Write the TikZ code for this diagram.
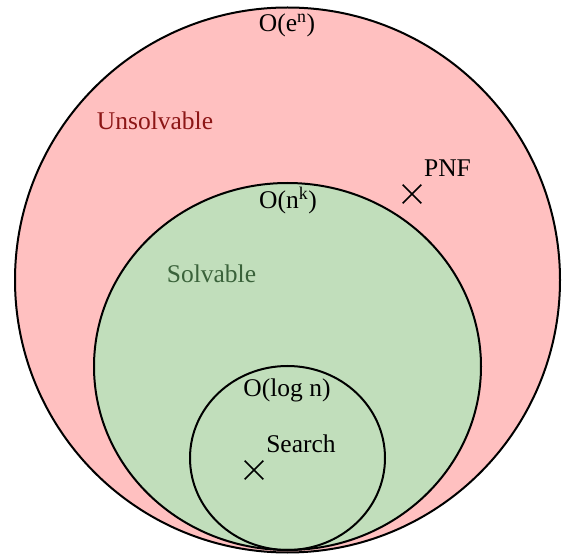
\documentclass[tikz,border=0pt]{standalone}
\usepackage{fontspec}
\setmainfont{Liberation Serif}
\usetikzlibrary{shapes.geometric,shapes.misc}
\definecolor{unsolvfill}{RGB}{255,192,192}
\definecolor{solvfill}{RGB}{193,222,187}
\definecolor{unsolvtext}{RGB}{140,22,22}
\definecolor{solvtext}{RGB}{58,98,58}

\begin{document}
\begin{tikzpicture}[x=1pt,y=-1pt,line width=2pt,
   set/.style={ellipse,draw,inner sep=0pt},
   lbl/.style={anchor=base,inner sep=0pt,font=\fontsize{25.5}{30}\selectfont},
   xmark/.style={cross out,draw,inner sep=0pt,minimum size=17pt,line width=1.6pt}]
   \useasboundingbox (0,0) rectangle (563,556);
   % the three classes
   \node[set,fill=unsolvfill,minimum width=545pt,minimum height=545pt] (all) at (287.5,280) {};
   \node[set,fill=solvfill,minimum width=387pt,minimum height=367pt] (poly) at (287.5,366.5) {};
   \node[set,minimum width=195pt,minimum height=184pt] (log_n) at (287.5,458) {};
   % labels
   \node[lbl] (all_lbl)  at (287,32)  {O(e\textsuperscript{n})};
   \node[lbl] (poly_lbl) at (288,209) {O(n\textsuperscript{k})};
   \node[lbl] (log_lbl)  at (287,397) {O(log n)};
   \node[lbl,text=unsolvtext] (unsolv) at (155,130) {Unsolvable};
   \node[lbl,text=solvtext]   (solv)   at (211.5,283) {Solvable};
   % problems
   \node[xmark] (pnf) at (412,194) {};
   \node[lbl] (pnf_lbl) at (447.5,177) {PNF};
   \node[xmark] (search) at (254,470) {};
   \node[lbl] (search_lbl) at (301,453) {Search};
\end{tikzpicture}
\end{document}
